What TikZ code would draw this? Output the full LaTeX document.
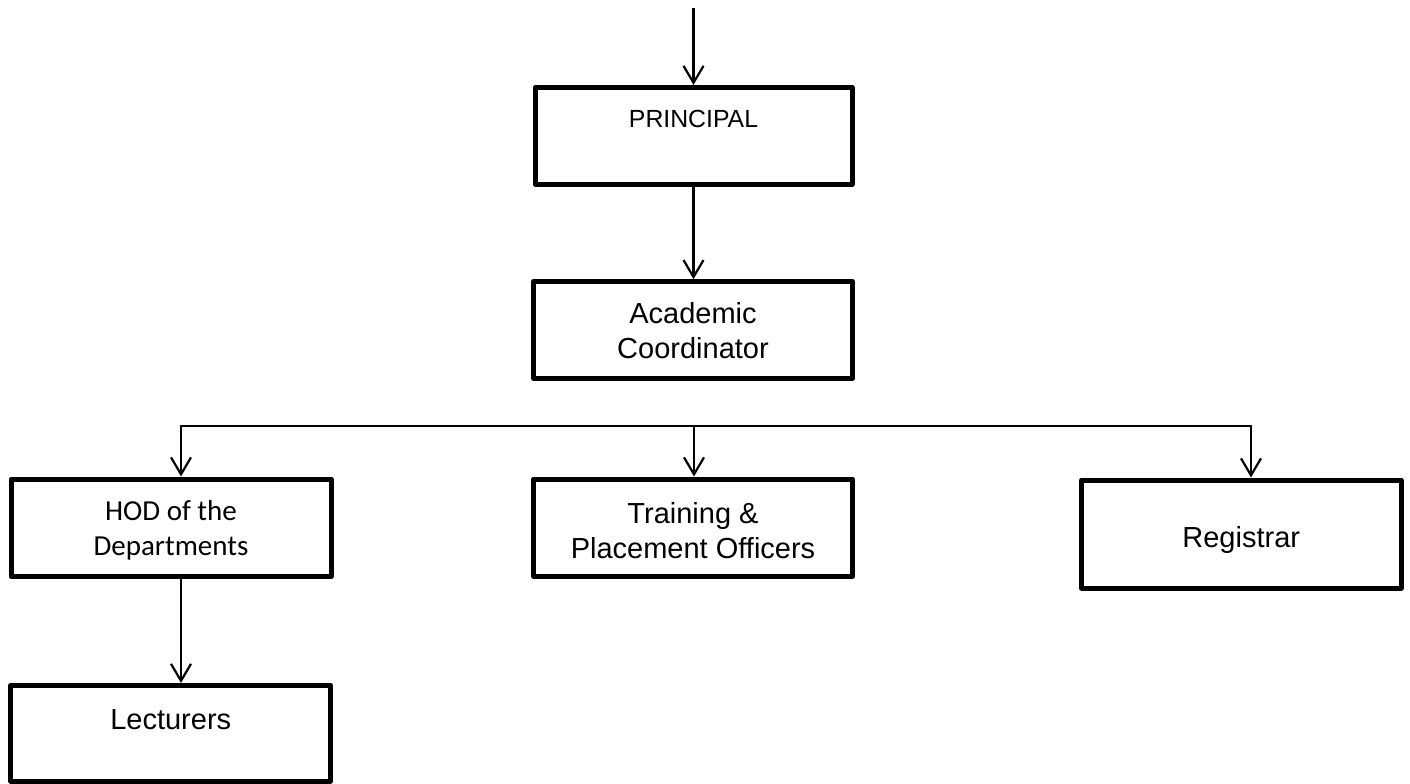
\documentclass[tikz,border=0pt]{standalone}
\usepackage{fontspec}
\newfontfamily\arialfont{Liberation Sans}
\newfontfamily\calibrifont{Carlito}
\usetikzlibrary{arrows.meta,positioning}
\tikzset{% 
  post/.style={%
    draw,
    rectangle,
    line width=2.5pt,
    line join=round,
    align=center,
    inner sep=0pt,
    font=\arialfont\fontsize{14.5}{17.5}\selectfont
  },
  reports to/.style={%
    line width=1.1pt,
    >={Straight Barb[length=8.5pt,width=10pt]},
    ->
  }
}

\begin{document}
\begin{tikzpicture}[x=0.5pt,y=-0.5pt]
  \useasboundingbox (0,0) rectangle (1410,783);
  \node [post, minimum width=158.5pt, minimum height=48.25pt, text height=9pt, text depth=16.8pt,
    font=\arialfont\fontsize{12.4}{15}\selectfont] (principal) at (693.5,135.75) {PRINCIPAL};
  \node [post, minimum width=159.5pt, minimum height=48.3pt, text height=30pt, text depth=2pt]
    (acad) at (693,330) {Academic\\Coordinator};
  \node [post, minimum width=160pt, minimum height=48.75pt, text height=30pt, text depth=2.75pt,
    font=\calibrifont\fontsize{14.5}{17.5}\selectfont] (hod) at (171,527.75) {HOD of the\\Departments};
  \node [post, minimum width=159.5pt, minimum height=48.75pt, text height=32pt, text depth=1.75pt]
    (tpo) at (693,527.75) {Training \&\\Placement Officers};
  \node [post, minimum width=159.75pt, minimum height=54pt, text height=16pt, text depth=3pt]
    (reg) at (1241.25,534) {Registrar};
  \node [post, minimum width=160pt, minimum height=47.75pt, text height=12pt, text depth=16.2pt]
    (lect) at (170.75,733.25) {Lecturers};
  % branch line under the coordinator
  \coordinate (entry) at (693.5,8);
  \coordinate (busL) at (181,426);
  \coordinate (busM) at (694,426);
  \coordinate (busR) at (1251,426);
  \draw [reports to] (entry) -- (principal.north);
  \draw [reports to] (principal.south) -- (principal.south |- acad.north);
  \draw [reports to, <->] (busL |- hod.north) -- (busL) -- (busR) -- (busR |- reg.north);
  \draw [reports to] (busM) -- (busM |- tpo.north);
  \draw [reports to] (busL |- hod.south) -- (busL |- lect.north);
\end{tikzpicture}
\end{document}
